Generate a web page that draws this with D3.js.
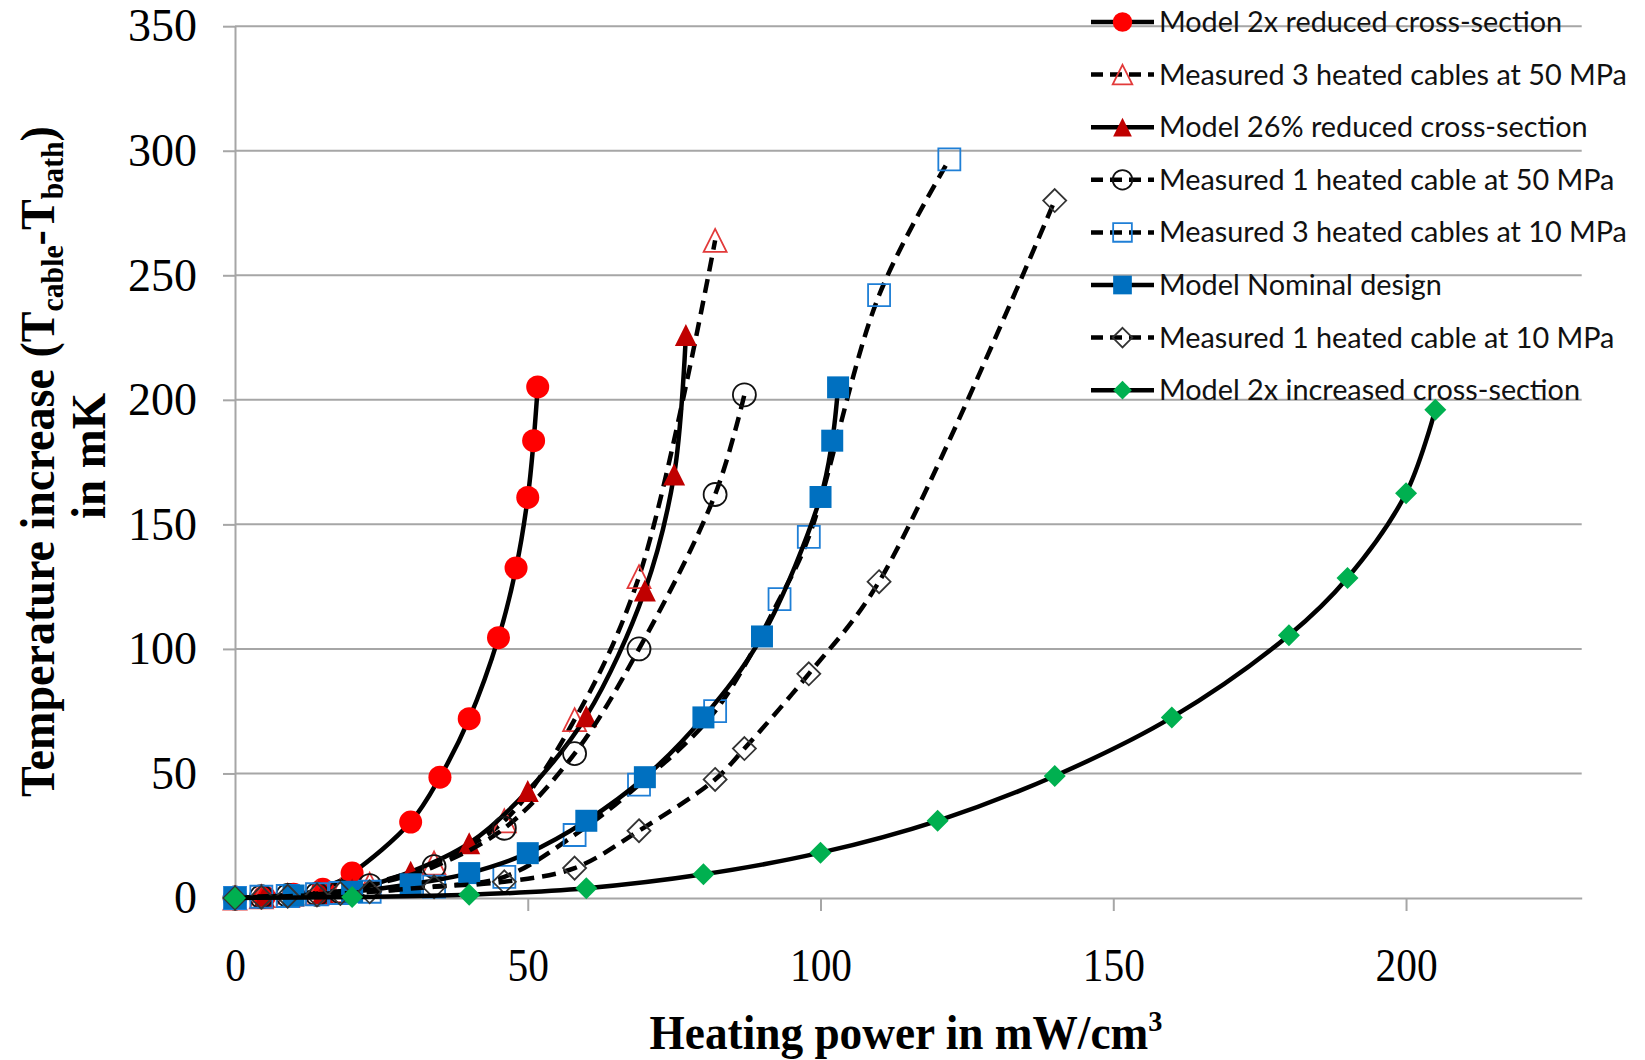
<!DOCTYPE html>
<html>
<head>
<meta charset="utf-8">
<script src="https://cdn.jsdelivr.net/npm/d3@7"></script>
<style>
  html, body { margin: 0; padding: 0; background: #fff; }
  svg { display: block; }
</style>
</head>
<body>
<div id="chart"></div>
<script>
'use strict';

// heating power (mW/cm3) vs temperature rise T_cable - T_bath (mK)
var model2xReducedX = [0, 5, 10, 15, 20, 30, 35, 40, 45, 48, 50, 51, 51.7];
var model2xReducedY = [0, 0.5, 1.5, 3.5, 10, 30.5, 48.5, 72, 104.5, 132.5, 160.8, 183.6, 205.2];

var meas3at50X = [0, 4.5, 9, 14, 18, 23, 34, 46, 58, 69, 82];
var meas3at50Y = [0, 0.5, 1, 2, 3, 5.5, 14, 31, 71.6, 129, 264];

var model26ReducedX = [0, 5, 10, 15, 20, 30, 40, 50, 60, 70, 75, 77];
var model26ReducedY = [0, 0.5, 1, 2, 3.5, 10.5, 22, 43, 73, 123.5, 170, 226];

var meas1at50X = [0, 4.5, 9, 14, 18, 23, 34, 46, 58, 69, 82, 87];
var meas1at50Y = [0, 0.5, 1, 1.5, 2.5, 5, 12.6, 28, 58, 100, 162, 202];

var meas3at10X = [0, 4.5, 9, 14, 18, 23, 34, 46, 58, 69, 82, 93, 98, 110, 122];
var meas3at10Y = [0, 0.5, 0.8, 1.5, 2, 2.5, 4.6, 8.5, 25.3, 45.5, 75, 120, 145, 242, 296.5];

var modelNominalX = [0, 10, 20, 30, 40, 50, 60, 70, 80, 90, 100, 102, 103];
var modelNominalY = [0, 1, 2.5, 5.5, 10, 18, 31, 48.5, 72.5, 105, 161, 183.6, 205];

var meas1at10X = [0, 4.5, 9, 14, 18, 23, 34, 46, 58, 69, 82, 87, 98, 110, 140];
var meas1at10Y = [0, 0.3, 0.7, 1.2, 1.8, 2.5, 4.5, 6.5, 12, 27, 47.6, 60, 90, 127, 280];

var model2xIncreasedX = [0, 20, 40, 60, 80, 100, 120, 140, 160, 180, 190, 200, 205];
var model2xIncreasedY = [0, 0.4, 1.3, 3.9, 9.5, 18.2, 31, 49, 72.5, 105.5, 128.5, 162.5, 196];

var xTicks = [0, 50, 100, 150, 200];
var yTicks = [0, 50, 100, 150, 200, 250, 300, 350];

var width = 1645, height = 1060;

// marker shapes drawn inside an s x s box
var shapes = {
    circle: { draw: function(c, s) { c.moveTo(s / 2, 0); c.arc(0, 0, s / 2, 0, 2 * Math.PI); } },
    square: { draw: function(c, s) { c.rect(-s / 2, -s / 2, s, s); } },
    diamond: { draw: function(c, s) { c.moveTo(0, -s / 2); c.lineTo(s / 2, 0); c.lineTo(0, s / 2); c.lineTo(-s / 2, 0); c.closePath(); } },
    triangle: { draw: function(c, s) { c.moveTo(0, -s / 2); c.lineTo(s / 2, s / 2); c.lineTo(-s / 2, s / 2); c.closePath(); } }
};

function pts(xs, ys) {
    return xs.map(function(d, i) { return {x: d, y: ys[i]}; });
}

var series = [
    {name: 'Model 2x reduced cross-section', data: pts(model2xReducedX, model2xReducedY), dashed: false,
        shape: 'circle', size: 23, fill: '#ff0000', stroke: 'none'},
    {name: 'Measured 3 heated cables at 50 MPa', data: pts(meas3at50X, meas3at50Y), dashed: true,
        shape: 'triangle', size: 23, fill: 'none', stroke: '#e23a3a'},
    {name: 'Model 26% reduced cross-section', data: pts(model26ReducedX, model26ReducedY), dashed: false,
        shape: 'triangle', size: 22, fill: '#c00000', stroke: 'none'},
    {name: 'Measured 1 heated cable at 50 MPa', data: pts(meas1at50X, meas1at50Y), dashed: true,
        shape: 'circle', size: 23, fill: 'none', stroke: '#111'},
    {name: 'Measured 3 heated cables at 10 MPa', data: pts(meas3at10X, meas3at10Y), dashed: true,
        shape: 'square', size: 22, fill: 'none', stroke: '#1f7fd6'},
    {name: 'Model Nominal design', data: pts(modelNominalX, modelNominalY), dashed: false,
        shape: 'square', size: 22, fill: '#0070c0', stroke: 'none'},
    {name: 'Measured 1 heated cable at 10 MPa', data: pts(meas1at10X, meas1at10Y), dashed: true,
        shape: 'diamond', size: 23, fill: 'none', stroke: '#333'},
    {name: 'Model 2x increased cross-section', data: pts(model2xIncreasedX, model2xIncreasedY), dashed: false,
        shape: 'diamond', size: 22, fill: '#00b050', stroke: 'none'}
];

var x = d3.scaleLinear().domain([0, 230]).range([235, 1581.7]);
var y = d3.scaleLinear().domain([0, 350]).range([898, 26.2]);

var svg = d3.select('#chart').append('svg')
    .attr('width', width)
    .attr('height', height)
    .style('background', '#fff');

var gridColor = '#a6a6a6';
var dash = '14,8';

// horizontal gridlines
svg.append('g').selectAll('line')
    .data(yTicks.filter(function(d) { return d > 0; }))
    .enter().append('line')
    .attr('x1', x(0)).attr('x2', x(230))
    .attr('y1', function(d) { return y(d); })
    .attr('y2', function(d) { return y(d); })
    .style('stroke', gridColor)
    .style('stroke-width', 2);

var yAxis = svg.append('g')
    .attr('transform', 'translate(' + x(0) + ',0)')
    .call(d3.axisLeft(y).tickValues(yTicks).tickSize(12).tickPadding(26).tickSizeOuter(0));

var xAxis = svg.append('g')
    .attr('transform', 'translate(0,' + y(0) + ')')
    .call(d3.axisBottom(x).tickValues(xTicks).tickSize(13).tickPadding(37).tickSizeOuter(0));

[yAxis, xAxis].forEach(function(g) {
    g.selectAll('path, line').style('stroke', gridColor).style('stroke-width', 2);
    g.selectAll('text')
        .style('font-family', '"Liberation Serif", "Times New Roman", serif')
        .style('font-size', '46px')
        .style('fill', '#000');
});
xAxis.selectAll('text').attr('transform', 'scale(0.9,1)');

// series: line first, then markers, in legend order
var line = d3.line()
    .x(function(d) { return x(d.x); })
    .y(function(d) { return y(d.y); })
    .curve(d3.curveCatmullRom.alpha(0.5));

var symbol = d3.symbol();

series.forEach(function(s) {
    var g = svg.append('g');
    g.append('path')
        .attr('d', line(s.data))
        .style('fill', 'none')
        .style('stroke', '#000')
        .style('stroke-width', 4.5)
        .style('stroke-dasharray', s.dashed ? dash : null);

    g.selectAll('path.mark')
        .data(s.data)
        .enter().append('path')
        .attr('class', 'mark')
        .attr('d', symbol.type(shapes[s.shape]).size(s.size)())
        .attr('transform', function(d) { return 'translate(' + x(d.x) + ',' + y(d.y) + ')'; })
        .style('fill', s.fill)
        .style('stroke', s.stroke)
        .style('stroke-width', 1.8);
});

// legend, drawn over the plot without a box
var legend = svg.append('g');
var rows = legend.selectAll('g')
    .data(series)
    .enter().append('g')
    .attr('transform', function(d, i) { return 'translate(1091,' + (22 + i * 52.6) + ')'; });

rows.append('line')
    .attr('x1', 0).attr('x2', 63)
    .style('stroke', '#000')
    .style('stroke-width', 4.5)
    .style('stroke-dasharray', function(d) { return d.dashed ? '12,7' : null; });

rows.append('path')
    .attr('d', function(d) { return d3.symbol().type(shapes[d.shape]).size(d.size * 0.85)(); })
    .attr('transform', 'translate(31.5,0)')
    .style('fill', function(d) { return d.fill; })
    .style('stroke', function(d) { return d.stroke; })
    .style('stroke-width', 1.8);

rows.append('text')
    .attr('x', 68)
    .attr('dy', '0.35em')
    .style('font-family', 'Lato, "Open Sans", sans-serif')
    .style('font-size', '28.8px')
    .style('fill', '#111')
    .text(function(d) { return d.name; });

// axis titles, squeezed to their measured run length
function squeeze(g, target) {
    var t = g.select('text');
    var w = t.node().getBBox().width;
    t.attr('transform', 'scale(' + (target / w) + ',1)');
}

var serif = '"Liberation Serif", "Times New Roman", serif';

var xTitle = svg.append('g').attr('transform', 'translate(906,1049)');
var xt = xTitle.append('text')
    .attr('text-anchor', 'middle')
    .style('font-family', serif)
    .style('font-weight', 'bold')
    .style('font-size', '48px');
xt.append('tspan').text('Heating power in mW/cm');
xt.append('tspan').attr('dy', -18).style('font-size', '30px').text('3');
squeeze(xTitle, 513);

var yTitle1 = svg.append('g').attr('transform', 'translate(54,461.5) rotate(-90)');
var yt = yTitle1.append('text')
    .attr('text-anchor', 'middle')
    .style('font-family', serif)
    .style('font-weight', 'bold')
    .style('font-size', '48px');
yt.append('tspan').text('Temperature increase (T');
yt.append('tspan').attr('dy', 9).style('font-size', '31px').text('cable');
yt.append('tspan').attr('dy', -9).text('-T');
yt.append('tspan').attr('dy', 9).style('font-size', '31px').text('bath');
yt.append('tspan').attr('dy', -9).text(')');
squeeze(yTitle1, 671);

var yTitle2 = svg.append('g').attr('transform', 'translate(105,456) rotate(-90)');
yTitle2.append('text')
    .attr('text-anchor', 'middle')
    .style('font-family', serif)
    .style('font-weight', 'bold')
    .style('font-size', '48px')
    .text('in mK');
squeeze(yTitle2, 126);
</script>
</body>
</html>
